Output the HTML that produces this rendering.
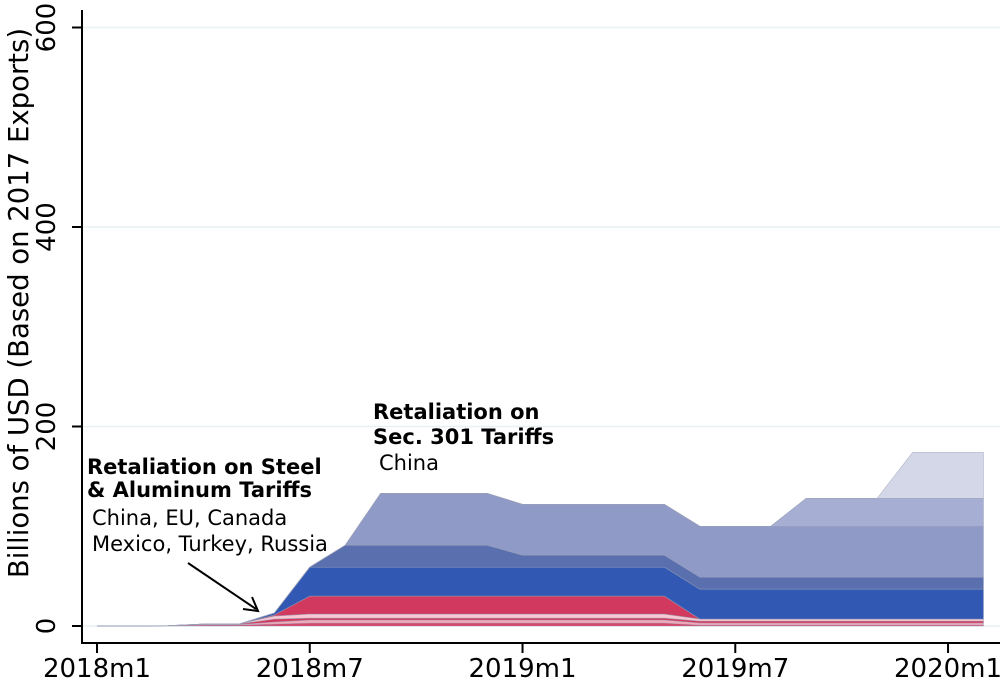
<!DOCTYPE html>
<html><head><meta charset="utf-8"><style>
html,body{margin:0;padding:0;background:#fff;}
svg{display:block;font-family:"DejaVu Sans","Liberation Sans",sans-serif;}
</style></head><body>
<svg id="chart" width="1006" height="687">
<g id="grid"></g><g id="areas"></g><g id="axes"></g>
<text x="373" y="419" font-size="21" font-weight="bold">Retaliation on</text>
<text x="373" y="444" font-size="21" font-weight="bold">Sec. 301 Tariffs</text>
<text x="379" y="470" font-size="21">China</text>
<text x="87" y="474" font-size="21" font-weight="bold">Retaliation on Steel</text>
<text x="87" y="497" font-size="21" font-weight="bold">&amp; Aluminum Tariffs</text>
<text x="92" y="525" font-size="21">China, EU, Canada</text>
<text x="92" y="551" font-size="21">Mexico, Turkey, Russia</text>
<line x1="188" y1="563" x2="256" y2="609" stroke="#000" stroke-width="2"/>
<polyline points="243,609 258,611 252,597" fill="none" stroke="#000" stroke-width="2"/>
<text transform="translate(28,303) rotate(-90)" text-anchor="middle" font-size="27.5">Billions of USD (Based on 2017 Exports)</text>
</svg>
<script>
const months=[0,1,2,3,4,5,6,7,8,9,10,11,12,13,14,15,16,17,18,19,20,21,22,23,24,25];
const L1=[0,0,0.3,1,1,2,3,3,3,3,3,3,3,3,3,3,3,1,1,1,1,1,1,1,1,1];
const L2=[0,0,0,0.5,0.5,2,3,3,3,3,3,3,3,3,3,3,3,2,2,2,2,2,2,2,2,2];
const L3=[0,0,0,0.5,0.5,3,2,2,2,2,2,2,2,2,2,2,2,2,2,2,2,2,2,2,2,2];
const L4=[0,0,0,0,0,3,4,4,4,4,4,4,4,4,4,4,4,2,2,2,2,2,2,2,2,2];
const L5=[0,0,0,0,0,1,18,18,18,18,18,18,18,18,18,18,18,0,0,0,0,0,0,0,0,0];
const L6=[0,0,0,0,0,2,29,29,29,29,29,29,29,29,29,29,29,30,30,30,30,30,30,30,30,30];
const L7=[0,0,0,0,0,0,0,22,22,22,22,22,12,12,12,12,12,12,12,12,12,12,12,12,12,12];
const L8=[0,0,0,0,0,0,0,0,52,52,52,52,51,51,51,51,51,51,51,51,51,51,51,51,51,51];
const L9=[0,0,0,0,0,0,0,0,0,0,0,0,0,0,0,0,0,0,0,0,28,28,28,28,28,28];
const L10=[0,0,0,0,0,0,0,0,0,0,0,0,0,0,0,0,0,0,0,0,0,0,0,46,46,46];
const layers=[L1,L2,L3,L4,L5,L6,L7,L8,L9,L10];
const colors=["#d8476a","#f5a8b8","#d43a5e","#f9c8d2","#d1395e","#3159b3","#5a6fae","#8f9ac6","#a6aed4","#d3d7e8"];
const yTicks=[0,200,400,600];
const xTickMonths=[0,6,12,18,24];
const xTickLabels=["2018m1","2018m7","2019m1","2019m7","2020m1"];
const NS="http://www.w3.org/2000/svg";
const X=t=>97+t*35.46, Y=v=>626-v*0.9975;
const grid=document.getElementById('grid'),areas=document.getElementById('areas'),axes=document.getElementById('axes');
function mk(tag,attrs,parent){const e=document.createElementNS(NS,tag);for(const k in attrs)e.setAttribute(k,attrs[k]);parent.appendChild(e);return e;}
yTicks.forEach(v=>{
  const g=mk('line',{x1:83,x2:1000,y1:Y(v),y2:Y(v),stroke:'#e8f0f2','stroke-width':1.5},grid);
  
  
});
let base=months.map(()=>0);
layers.forEach((L,i)=>{
  const top=base.map((b,j)=>b+L[j]);
  let d='M'+months.map((m,j)=>X(m)+','+Y(top[j])).join(' L');
  d+=' L'+months.slice().reverse().map((m,k)=>{const j=months.length-1-k;return X(m)+','+Y(base[j]);}).join(' L')+' Z';
  const p=mk('path',{d:d,fill:colors[i],stroke:'#9aa0b8','stroke-width':0.6,'stroke-opacity':0.7},areas);
  
  
  base=top;
});
const ya=mk('line',{x1:82,x2:82,y1:10,y2:643,stroke:'#000','stroke-width':2},axes);


const xa=mk('line',{x1:81,x2:1000,y1:643,y2:643,stroke:'#000','stroke-width':2},axes);


yTicks.forEach(v=>{
  mk('line',{x1:72,x2:82,y1:Y(v),y2:Y(v),stroke:'#000','stroke-width':2},axes);
  const t=mk('text',{transform:`translate(55,${Y(v)}) rotate(-90)`,'text-anchor':'middle','font-size':26},axes);
  t.textContent=v;
  
  
});
xTickMonths.forEach((m,i)=>{
  mk('line',{x1:X(m),x2:X(m),y1:643,y2:653,stroke:'#000','stroke-width':2},axes);
  const t=mk('text',{x:X(m),y:677,'text-anchor':'middle','font-size':26},axes);
  t.textContent=xTickLabels[i];
  
  
});
</script>
</body></html>
